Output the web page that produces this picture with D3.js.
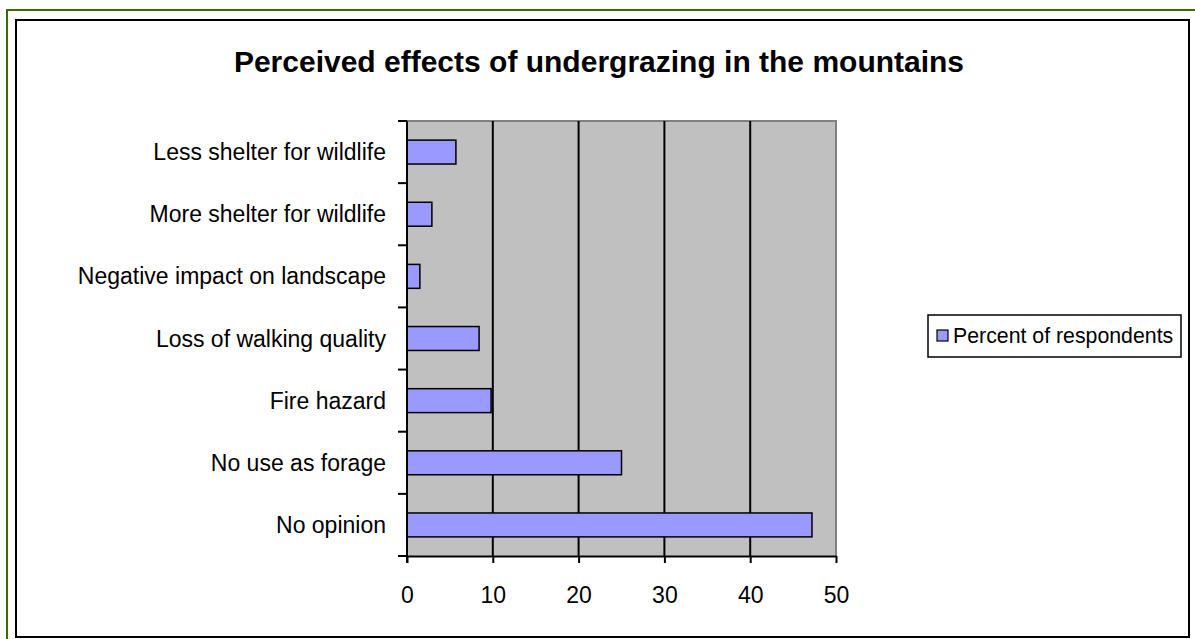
<!DOCTYPE html>
<html>
<head>
<meta charset="utf-8">
<script src="https://cdn.jsdelivr.net/npm/d3@7"></script>
<style>
  html, body { margin: 0; padding: 0; background: #fff; }
  svg { display: block; font-family: "Liberation Sans", Arial, sans-serif; }
</style>
</head>
<body>
<svg id="chart" width="1195" height="639"></svg>
<script>
// Survey responses: perceived effects of undergrazing (percent of respondents)
const categories = [
  "Less shelter for wildlife",
  "More shelter for wildlife",
  "Negative impact on landscape",
  "Loss of walking quality",
  "Fire hazard",
  "No use as forage",
  "No opinion"
];
const percentValues = [5.7, 2.9, 1.5, 8.4, 9.8, 25, 47.2];
const xTicks = [0, 10, 20, 30, 40, 50];
const seriesName = "Percent of respondents";
const chartTitle = "Perceived effects of undergrazing in the mountains";

const svg = d3.select("#chart");

// outer frame: green rule along the top and left, black chart box inside
svg.append("line").attr("x1", 6).attr("x2", 1195).attr("y1", 10).attr("y2", 10)
  .attr("stroke", "#3d6b00").attr("stroke-width", 2);
svg.append("line").attr("x1", 7).attr("x2", 7).attr("y1", 9).attr("y2", 639)
  .attr("stroke", "#3d6b00").attr("stroke-width", 2);
svg.append("rect").attr("x", 16).attr("y", 20).attr("width", 1173).attr("height", 617)
  .attr("fill", "#fff").attr("stroke", "#000").attr("stroke-width", 2);

const plot = { left: 407, right: 836, top: 121, bottom: 556 };

const x = d3.scaleLinear().domain([0, 50]).range([plot.left, plot.right]);
const y = d3.scaleBand().domain(categories).range([plot.top, plot.bottom]).paddingInner(0.615).paddingOuter(0.3075);

// plot area
svg.append("rect")
  .attr("x", plot.left).attr("y", plot.top)
  .attr("width", plot.right - plot.left).attr("height", plot.bottom - plot.top)
  .attr("fill", "#c0c0c0");
svg.append("path")
  .attr("d", `M${plot.left},${plot.top}H${plot.right}V${plot.bottom}`)
  .attr("fill", "none").attr("stroke", "#808080").attr("stroke-width", 2);

// vertical gridlines
svg.append("g").selectAll("line")
  .data(xTicks.filter(d => d > 0 && d < 50))
  .join("line")
  .attr("x1", d => x(d)).attr("x2", d => x(d))
  .attr("y1", plot.top).attr("y2", plot.bottom)
  .attr("stroke", "#000").attr("stroke-width", 2);

// bars
svg.append("g").selectAll("rect")
  .data(categories.map((c, i) => ({ c, v: percentValues[i] })))
  .join("rect")
  .attr("x", x(0))
  .attr("y", d => y(d.c))
  .attr("width", d => x(d.v) - x(0))
  .attr("height", y.bandwidth())
  .attr("fill", "#9999ff")
  .attr("stroke", "#000").attr("stroke-width", 1.5);

// x axis
const xAxis = svg.append("g")
  .attr("transform", `translate(0,${plot.bottom})`)
  .call(d3.axisBottom(x).tickValues(xTicks).tickSize(7).tickPadding(24).tickSizeOuter(0));
xAxis.select(".domain").attr("stroke", "#000").attr("stroke-width", 2);
xAxis.selectAll(".tick line").attr("stroke", "#000").attr("stroke-width", 2);
xAxis.selectAll(".tick text").attr("font-size", 23).attr("fill", "#000")
  .attr("font-family", "Liberation Sans, Arial, sans-serif");

// y axis: category boundaries carry the tick marks
const yAxisG = svg.append("g");
yAxisG.append("line").attr("x1", plot.left).attr("x2", plot.left)
  .attr("y1", plot.top).attr("y2", plot.bottom + 7)
  .attr("stroke", "#000").attr("stroke-width", 2);
yAxisG.selectAll("line.tk")
  .data(d3.range(categories.length + 1))
  .join("line").attr("class", "tk")
  .attr("x1", plot.left - 9).attr("x2", plot.left)
  .attr("y1", i => plot.top + i * (plot.bottom - plot.top) / categories.length)
  .attr("y2", i => plot.top + i * (plot.bottom - plot.top) / categories.length)
  .attr("stroke", "#000").attr("stroke-width", 2);
yAxisG.selectAll("text")
  .data(categories)
  .join("text")
  .attr("x", plot.left - 21)
  .attr("y", d => y(d) + y.bandwidth() / 2)
  .attr("dy", "0.35em")
  .attr("text-anchor", "end")
  .attr("font-size", 23)
  .attr("fill", "#000")
  .text(d => d);

// title
svg.append("text")
  .attr("x", 599).attr("y", 72)
  .attr("text-anchor", "middle")
  .attr("font-size", 30).attr("font-weight", "bold")
  .text(chartTitle);

// legend
const legend = svg.append("g");
legend.append("rect").attr("x", 928).attr("y", 315).attr("width", 253).attr("height", 42)
  .attr("fill", "#fff").attr("stroke", "#000").attr("stroke-width", 1.5);
legend.append("rect").attr("x", 937).attr("y", 330).attr("width", 11).attr("height", 11)
  .attr("fill", "#9999ff").attr("stroke", "#000").attr("stroke-width", 1.2);
legend.append("text").attr("x", 953).attr("y", 336).attr("dy", "0.35em")
  .attr("font-size", 21.3).text(seriesName);
</script>
</body>
</html>
